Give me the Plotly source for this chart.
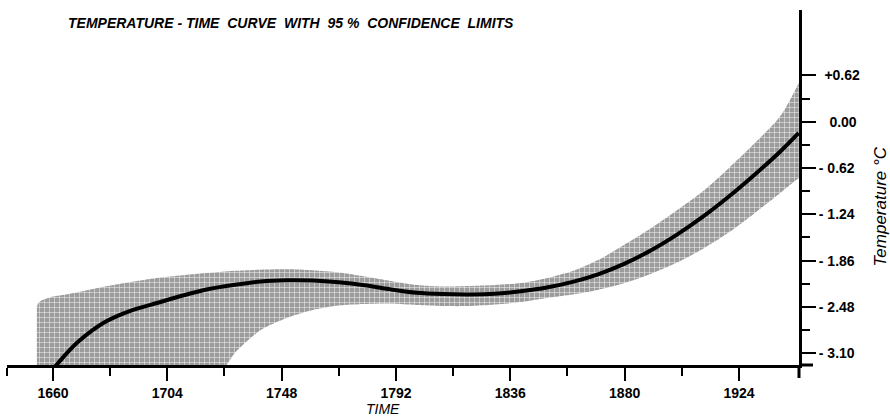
import plotly.graph_objects as go

# ---- data ----
curve_years = [1660, 1665, 1670, 1680, 1690, 1700, 1710, 1720, 1730, 1740, 1750, 1760,
               1770, 1780, 1790, 1800, 1810, 1820, 1830, 1840, 1850, 1860, 1870, 1880,
               1890, 1900, 1910, 1920, 1930, 1940, 1947]
curve_temp = [-3.312, -3.111, -2.937, -2.683, -2.529, -2.428, -2.328, -2.241, -2.184, -2.140,
              -2.124, -2.128, -2.151, -2.191, -2.245, -2.290, -2.308, -2.314, -2.305, -2.270,
              -2.220, -2.145, -2.040, -1.900, -1.725, -1.515, -1.275, -1.005, -0.710, -0.395,
              -0.150]

band_years = [1653.8, 1654.5, 1656, 1660, 1665, 1670, 1680, 1690, 1700, 1710, 1720, 1726.5,
              1730, 1740, 1750, 1760, 1770, 1780, 1790, 1800, 1810, 1820, 1830, 1840, 1850,
              1860, 1870, 1880, 1890, 1900, 1910, 1920, 1930, 1940, 1947]
band_upper = [-2.482, -2.421, -2.388, -2.341, -2.314, -2.281, -2.207, -2.147, -2.093, -2.057,
              -2.024, -2.006, -1.997, -1.982, -1.977, -1.990, -2.020, -2.073, -2.133, -2.187,
              -2.207, -2.200, -2.187, -2.160, -2.095, -2.000, -1.850, -1.645, -1.430, -1.190,
              -0.935, -0.625, -0.290, 0.080, 0.520]
band_lower = [-3.80, -3.80, -3.80, -3.80, -3.80, -3.80, -3.80, -3.80, -3.80, -3.80,
              -3.48, -3.27, -3.098, -2.790, -2.629, -2.522, -2.462, -2.441, -2.435, -2.455,
              -2.468, -2.468, -2.448, -2.415, -2.361, -2.314, -2.250, -2.160, -2.040, -1.890,
              -1.705, -1.485, -1.225, -0.950, -0.755]

x_tick_vals = [1660, 1704, 1748, 1792, 1836, 1880, 1924]
x_tick_text = ["1660", "1704", "1748", "1792", "1836", "1880", "1924"]
x_minor_vals = [1642.4, 1682, 1726, 1770, 1814, 1858, 1902]

y_tick_vals = [0.62, 0.0, -0.62, -1.24, -1.86, -2.48, -3.10]
y_tick_text = ["\u2009\u2009+0.62", "\u2007\u20090.00", "- 0.62", "- 1.24", "- 1.86", "- 2.48", "- 3.10"]
y_minor_vals = [0.31, -0.31, -0.93, -1.55, -2.17, -2.79]

X_RANGE = [1642.3, 1947.1]
Y_RANGE = [-3.258, 1.496]

fig = go.Figure()

fig.add_trace(go.Scatter(x=band_years, y=band_lower, mode="lines",
                         line=dict(width=0, shape="spline", smoothing=0.8),
                         hoverinfo="skip", showlegend=False))
fig.add_trace(go.Scatter(x=band_years, y=band_upper, mode="lines",
                         line=dict(width=0, shape="spline", smoothing=0.8),
                         fill="tonexty", fillcolor="#a0a0a0",
                         fillpattern=dict(shape="+", bgcolor="#9c9c9c", fgcolor="#f0f0f0",
                                          size=5, solidity=0.2, fillmode="replace"),
                         hoverinfo="skip", showlegend=False))
fig.add_trace(go.Scatter(x=curve_years, y=curve_temp, mode="lines",
                         line=dict(color="black", width=4, shape="spline", smoothing=0.8),
                         showlegend=False))

fig.update_layout(
    width=890, height=418,
    margin=dict(l=7, r=91, t=10, b=53),
    paper_bgcolor="white", plot_bgcolor="white",
    font=dict(family="Liberation Sans, Arial, sans-serif", color="black"),
    showlegend=False,
    title=dict(text="TEMPERATURE - TIME\u00a0 CURVE\u00a0 WITH\u00a0 95 %\u00a0 CONFIDENCE\u00a0 LIMITS",
               xref="container", yref="container", x=68 / 890, xanchor="left",
               y=1 - 22.7 / 418, yanchor="middle",
               font=dict(size=14, style="italic", weight="bold", color="black")),
    xaxis=dict(range=X_RANGE, tickmode="array", tickvals=x_tick_vals, ticktext=x_tick_text,
               ticks="outside", ticklen=13, tickwidth=2, tickcolor="black",
               showline=True, linewidth=3, linecolor="black",
               showgrid=False, zeroline=False,
               tickfont=dict(size=14, weight="bold", color="black"),
               minor=dict(tickmode="array", tickvals=x_minor_vals, ticks="outside",
                          ticklen=8, tickwidth=2, tickcolor="black", showgrid=False)),
    yaxis=dict(range=Y_RANGE, side="right", tickmode="array", tickvals=y_tick_vals,
               ticktext=y_tick_text,
               ticks="outside", ticklen=14, tickwidth=2, tickcolor="black",
               showline=True, linewidth=3, linecolor="black",
               showgrid=False, zeroline=False,
               tickfont=dict(size=14, weight="bold", color="black"),
               minor=dict(tickmode="array", tickvals=y_minor_vals, ticks="outside",
                          ticklen=8, tickwidth=2, tickcolor="black", showgrid=False)),
)

# axis extensions (x-axis continues past the y-axis, y-axis continues below the x-axis)
fig.add_shape(type="line", xref="paper", yref="paper", x0=1, x1=1 + 14 / 792, y0=0, y1=0,
              line=dict(color="black", width=3))
fig.add_shape(type="line", xref="paper", yref="paper", x0=1, x1=1, y0=0, y1=-13 / 355,
              line=dict(color="black", width=3))

fig.add_annotation(text="TIME", xref="paper", yref="paper",
                   x=(383 - 7) / 792, y=(365 - 408.5) / 355, xanchor="center", yanchor="middle",
                   showarrow=False, font=dict(size=14, style="italic", color="black"))
fig.add_annotation(text="Temperature °C", xref="paper", yref="paper",
                   x=(880 - 7) / 792, y=(365 - 206.5) / 355, xanchor="center", yanchor="middle",
                   textangle=-90, showarrow=False,
                   font=dict(size=17, style="italic", color="black"))

fig.write_html("out.html")
